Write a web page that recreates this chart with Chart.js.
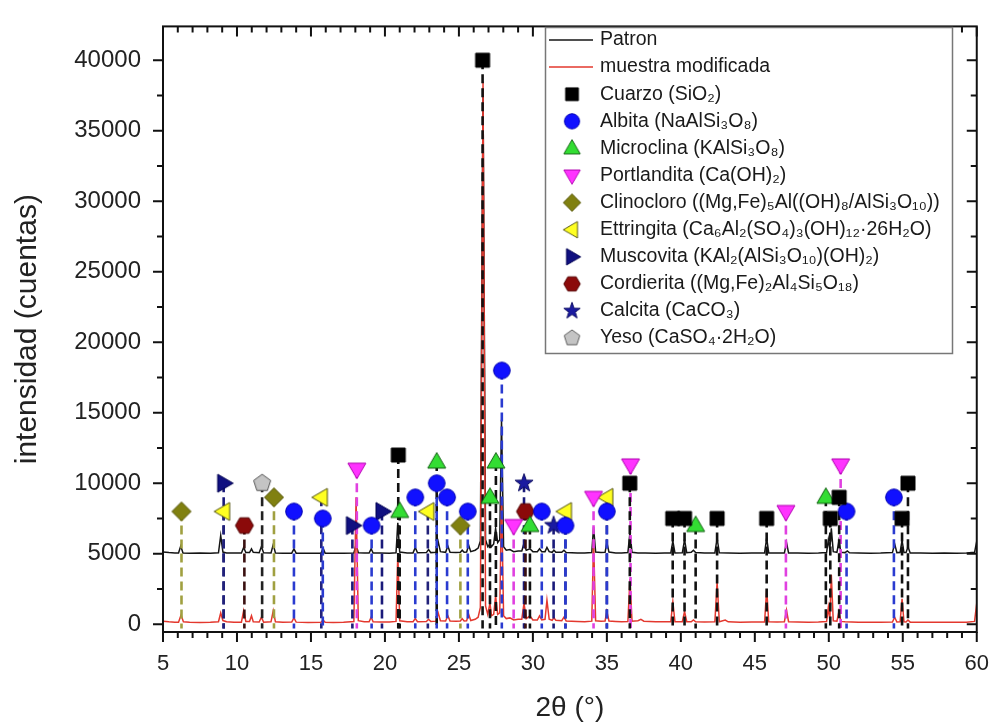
<!DOCTYPE html>
<html><head><meta charset="utf-8">
<script src="https://cdn.jsdelivr.net/npm/chart.js@4.4.1/dist/chart.umd.min.js"></script>
<style>html,body{margin:0;padding:0;background:#fff;}</style>
</head><body>
<canvas id="c" width="998" height="727"></canvas>
<script>
const FONT = '"Liberation Sans", Arial, Helvetica, sans-serif';

// ---- tick labels ----
const xTicks = [5, 10, 15, 20, 25, 30, 35, 40, 45, 50, 55, 60];
const yTicks = [0, 5000, 10000, 15000, 20000, 25000, 30000, 35000, 40000];

// ---- diffractograms [2θ, counts] ----
const patron = [[5.0,5120],[5.4,5080],[5.8,5060],[6.05,5050],[6.2,5550],[6.35,5060],[6.8,5040],[7.5,5050],[8.2,5040],[8.75,5070],[8.9,6300],[9.05,5120],[9.3,5060],[9.8,5050],[10.3,5050],[10.45,5450],[10.6,5080],[10.85,5080],[10.98,5350],[11.1,5100],[11.5,5070],[11.65,5500],[11.8,5070],[12.3,5060],[12.45,5650],[12.6,5060],[13.1,5040],[13.7,5040],[13.85,5350],[14.0,5040],[14.8,5030],[15.68,5040],[15.82,5400],[15.96,5040],[16.5,5030],[17.2,5040],[17.9,5050],[18.05,5650],[18.2,5070],[18.6,5050],[18.93,5050],[19.07,5350],[19.2,5050],[19.7,5050],[20.3,5040],[20.75,5070],[20.87,7200],[21.0,5120],[21.5,5060],[21.9,5060],[22.05,5450],[22.2,5070],[22.8,5080],[22.95,5300],[23.1,5080],[23.45,5100],[23.6,5850],[23.75,5150],[24.1,5100],[24.25,5550],[24.4,5100],[24.8,5080],[25.1,5100],[25.22,5250],[25.35,5100],[25.52,5120],[25.66,5600],[25.8,5150],[26.1,5250],[26.3,5400],[26.45,5900],[26.63,38000],[26.8,6000],[26.95,5500],[27.1,5700],[27.2,5500],[27.35,5700],[27.48,6800],[27.62,5800],[27.76,6000],[27.88,14500],[28.02,5500],[28.2,5250],[28.45,5300],[28.7,5150],[29.0,5200],[29.25,5200],[29.4,5750],[29.55,5250],[29.8,5350],[30.0,5150],[30.3,5150],[30.45,5350],[30.6,5150],[30.82,5150],[30.95,5450],[31.1,5150],[31.3,5100],[31.42,5250],[31.55,5100],[31.95,5100],[32.1,5250],[32.25,5080],[33.0,5060],[33.5,5050],[33.98,5080],[34.1,6900],[34.24,5120],[34.6,5080],[34.88,5100],[35.0,5800],[35.14,5120],[35.6,5060],[36.0,5050],[36.42,5080],[36.56,6500],[36.7,5100],[37.1,5060],[37.6,5050],[38.3,5040],[38.9,5050],[39.32,5060],[39.46,5900],[39.6,5060],[40.1,5070],[40.25,6000],[40.4,5070],[40.7,5100],[40.85,5250],[41.0,5080],[41.6,5050],[42.3,5060],[42.45,6100],[42.6,5070],[43.2,5060],[44.0,5040],[44.8,5050],[45.66,5060],[45.8,6100],[45.94,5060],[46.5,5050],[47.0,5060],[47.14,5800],[47.28,5060],[47.9,5050],[48.6,5040],[49.3,5050],[49.85,5080],[49.97,6000],[50.07,5300],[50.17,6800],[50.3,5150],[50.55,5100],[50.68,5900],[50.82,5100],[51.1,5080],[51.25,5200],[51.4,5070],[52.0,5050],[52.8,5040],[53.5,5050],[54.3,5080],[54.45,5700],[54.6,5080],[54.82,5090],[54.95,5950],[55.08,5080],[55.22,5080],[55.35,5500],[55.5,5060],[56.2,5050],[57.0,5040],[57.8,5050],[58.6,5040],[59.3,5050],[59.85,5100],[60.0,5900]];

const muestra = [[5.0,220],[5.4,170],[5.8,150],[6.05,150],[6.22,650],[6.38,170],[6.8,140],[7.5,130],[8.2,140],[8.75,180],[8.9,800],[9.05,260],[9.3,180],[9.8,150],[10.3,150],[10.45,950],[10.6,200],[10.85,200],[10.98,600],[11.1,180],[11.5,160],[11.65,500],[11.8,150],[12.3,170],[12.45,950],[12.6,170],[13.1,140],[13.7,150],[13.85,450],[14.0,150],[14.8,130],[15.68,140],[15.82,300],[15.96,140],[16.5,130],[17.2,150],[17.9,200],[18.05,9000],[18.2,250],[18.6,180],[18.93,170],[19.07,500],[19.2,170],[19.7,160],[20.3,160],[20.75,200],[20.87,5000],[21.0,250],[21.5,180],[21.9,180],[22.05,400],[22.2,180],[22.8,200],[22.95,350],[23.1,200],[23.45,220],[23.6,800],[23.75,250],[24.1,230],[24.25,600],[24.4,230],[24.8,220],[25.1,230],[25.22,400],[25.35,230],[25.52,250],[25.66,700],[25.8,260],[26.1,350],[26.3,500],[26.45,1200],[26.63,38500],[26.8,1300],[26.95,700],[27.1,1500],[27.2,600],[27.35,700],[27.48,2000],[27.62,700],[27.76,800],[27.88,9000],[28.02,600],[28.2,400],[28.45,450],[28.7,300],[29.0,350],[29.25,350],[29.4,1500],[29.55,400],[29.8,600],[30.0,300],[30.3,300],[30.45,600],[30.6,300],[30.82,350],[30.95,1700],[31.1,350],[31.3,280],[31.42,450],[31.55,280],[31.95,250],[32.1,500],[32.25,230],[33.0,200],[33.5,180],[33.98,220],[34.1,6000],[34.24,250],[34.6,220],[34.88,230],[35.0,900],[35.14,230],[35.6,200],[36.0,180],[36.42,200],[36.56,3200],[36.7,220],[37.1,250],[37.3,350],[37.5,220],[38.3,170],[38.9,170],[39.32,180],[39.46,1600],[39.6,180],[40.1,180],[40.25,900],[40.4,180],[40.7,170],[40.85,300],[41.0,170],[41.6,160],[42.3,170],[42.45,3000],[42.6,180],[43.0,300],[43.2,170],[44.0,150],[44.8,160],[45.66,160],[45.8,2500],[45.94,170],[46.5,160],[47.0,180],[47.14,1000],[47.28,180],[47.9,160],[48.6,150],[49.3,160],[49.85,200],[49.97,1200],[50.07,300],[50.17,3500],[50.3,250],[50.55,220],[50.68,900],[50.82,200],[51.1,170],[52.0,150],[52.8,150],[53.5,150],[54.3,160],[54.45,500],[54.6,160],[54.82,170],[54.95,1800],[55.08,170],[55.22,160],[55.35,300],[55.5,150],[56.2,150],[57.0,140],[57.8,150],[58.6,150],[59.3,150],[59.85,200],[60.0,1500]];

// ---- phase identification markers (2θ, marker height) ----
const cuarzoTheta  = [20.9, 26.6, 36.55, 39.45, 40.25, 42.45, 45.8, 50.1, 50.7, 54.95, 55.35];
const cuarzoCounts = [12000, 40000, 10000, 7500, 7500, 7500, 7500, 7500, 9000, 7500, 10000];
const albitaTheta  = [13.85, 15.8, 19.1, 22.05, 23.5, 24.2, 25.6, 27.9, 30.6, 32.2, 35.0, 51.2, 54.4];
const albitaCounts = [8000, 7500, 7000, 9000, 10000, 9000, 8000, 18000, 8000, 7000, 8000, 8000, 9000];
const microclinaTheta  = [21.0, 23.5, 27.1, 27.5, 29.8, 41.0, 49.8];
const microclinaCounts = [8000, 11500, 9000, 11500, 7000, 7000, 9000];
const portlanditaTheta  = [18.1, 28.7, 34.1, 36.6, 47.1, 50.8];
const portlanditaCounts = [11000, 7000, 9000, 11300, 8000, 11300];
const clinocloroTheta  = [6.25, 12.5, 25.1];
const clinocloroCounts = [8000, 9000, 7000];
const ettringitaTheta  = [9.1, 15.7, 22.9, 32.2, 35.0];
const ettringitaCounts = [8000, 9000, 8000, 8000, 9000];
const muscovitaTheta  = [9.1, 17.8, 19.8];
const muscovitaCounts = [10000, 7000, 8000];
const cordieritaTheta  = [10.5, 29.5];
const cordieritaCounts = [7000, 8000];
const calcitaTheta  = [29.4, 31.4];
const calcitaCounts = [10000, 7000];
const yesoTheta  = [11.7];
const yesoCounts = [10000];

const seriesLabels = ['Patron', 'muestra modificada'];
const phaseLabels = [
  'Cuarzo (SiO₂)',
  'Albita (NaAlSi₃O₈)',
  'Microclina (KAlSi₃O₈)',
  'Portlandita (Ca(OH)₂)',
  'Clinocloro ((Mg,Fe)₅Al((OH)₈/AlSi₃O₁₀))',
  'Ettringita (Ca₆Al₂(SO₄)₃(OH)₁₂·26H₂O)',
  'Muscovita (KAl₂(AlSi₃O₁₀)(OH)₂)',
  'Cordierita ((Mg,Fe)₂Al₄Si₅O₁₈)',
  'Calcita (CaCO₃)',
  'Yeso (CaSO₄·2H₂O)'
];

// ---- marker images ----
function makeMarker(shape, fill, stroke) {
  const s = 24, c = document.createElement('canvas');
  c.width = s; c.height = s;
  const g = c.getContext('2d');
  g.translate(s / 2, s / 2);
  g.beginPath();
  const poly = (pts) => { g.moveTo(pts[0][0], pts[0][1]); for (let i = 1; i < pts.length; i++) g.lineTo(pts[i][0], pts[i][1]); g.closePath(); };
  const reg = (n, r, a0) => { const p = []; for (let i = 0; i < n; i++) { const a = a0 + i * 2 * Math.PI / n; p.push([r * Math.cos(a), r * Math.sin(a)]); } poly(p); };
  switch (shape) {
    case 'square': g.rect(-7, -7, 14, 14); break;
    case 'circle': g.arc(0, 0, 8.3, 0, Math.PI * 2); break;
    case 'up': poly([[0, -9.5], [9, 6], [-9, 6]]); break;
    case 'down': poly([[0, 9.5], [9, -6], [-9, -6]]); break;
    case 'diamond': poly([[0, -9.5], [9.5, 0], [0, 9.5], [-9.5, 0]]); break;
    case 'left': poly([[-9.5, 0], [6, -9], [6, 9]]); break;
    case 'right': poly([[9.5, 0], [-6, -9], [-6, 9]]); break;
    case 'hex': reg(6, 9, 0); break;
    case 'pent': reg(5, 9, -Math.PI / 2); break;
    case 'star': {
      const p = [];
      for (let i = 0; i < 10; i++) { const r = i % 2 ? 3.8 : 9.5; const a = -Math.PI / 2 + i * Math.PI / 5; p.push([r * Math.cos(a), r * Math.sin(a)]); }
      poly(p); break;
    }
  }
  g.fillStyle = fill; g.fill();
  g.lineWidth = 1; g.strokeStyle = stroke; g.stroke();
  return c;
}

const phases = [
  { t: cuarzoTheta, c: cuarzoCounts, m: makeMarker('square', '#000000', '#000000'), dash: '#111111' },
  { t: albitaTheta, c: albitaCounts, m: makeMarker('circle', '#1010ff', '#0000b0'), dash: '#2a3bd0' },
  { t: microclinaTheta, c: microclinaCounts, m: makeMarker('up', '#33dd33', '#106010'), dash: '#111111' },
  { t: portlanditaTheta, c: portlanditaCounts, m: makeMarker('down', '#ff33ff', '#b000b0'), dash: '#e040e0' },
  { t: clinocloroTheta, c: clinocloroCounts, m: makeMarker('diamond', '#808010', '#505000'), dash: '#a0a040' },
  { t: ettringitaTheta, c: ettringitaCounts, m: makeMarker('left', '#ffff22', '#505010'), dash: '#22227a' },
  { t: muscovitaTheta, c: muscovitaCounts, m: makeMarker('right', '#101080', '#000050'), dash: '#1a1a7a' },
  { t: cordieritaTheta, c: cordieritaCounts, m: makeMarker('hex', '#8b0a0a', '#500000'), dash: '#3a1010' },
  { t: calcitaTheta, c: calcitaCounts, m: makeMarker('star', '#1a1aa0', '#0a0a60'), dash: '#1a1a7a' },
  { t: yesoTheta, c: yesoCounts, m: makeMarker('pent', '#c4c4c4', '#555555'), dash: '#222222' }
];

const DASH_BOTTOM = -300;
const datasets = [];
phases.forEach((p, i) => {
  datasets.push({
    label: phaseLabels[i],
    data: p.t.map((x, k) => ({ x, y: p.c[k] })),
    pointStyle: p.m, pointRadius: 10, showLine: false, order: 0
  });
});
phases.forEach((p, i) => {
  const d = [];
  p.t.forEach((x, k) => { d.push({ x, y: p.c[k] }, { x, y: DASH_BOTTOM }, { x, y: null }); });
  datasets.push({
    label: phaseLabels[i] + ' ref', data: d, showLine: true, spanGaps: false,
    borderColor: p.dash, borderWidth: 2.6, borderDash: [9, 5], pointRadius: 0, order: 1
  });
});
datasets.push({
  label: seriesLabels[1], data: muestra.map(([x, y]) => ({ x, y })),
  showLine: true, borderColor: '#e3382e', borderWidth: 1.5, pointRadius: 0, order: 2
});
datasets.push({
  label: seriesLabels[0], data: patron.map(([x, y]) => ({ x, y })),
  showLine: true, borderColor: '#151515', borderWidth: 1.5, pointRadius: 0, order: 3
});

const framePlugin = {
  id: 'frame',
  afterDraw(chart) {
    const { ctx, chartArea: { left, right, top, bottom }, scales: { x, y } } = chart;
    ctx.save();
    ctx.strokeStyle = '#111'; ctx.lineWidth = 2;
    ctx.strokeRect(left, top, right - left, bottom - top);
    ctx.beginPath();
    for (let v = xTicks[0]; v <= xTicks[xTicks.length - 1]; v += 1) {
      const px = x.getPixelForValue(v);
      const len = (v % 5 === 0) ? 10 : 6;
      ctx.moveTo(px, bottom); ctx.lineTo(px, bottom + len);
      ctx.moveTo(px, top); ctx.lineTo(px, top + len);
    }
    for (let v = 2500; v < y.max; v += 2500) {
      const py = y.getPixelForValue(v);
      const len = (v % 5000 === 0) ? 10 : 6;
      ctx.moveTo(left - len, py); ctx.lineTo(left, py);
      ctx.moveTo(right - len, py); ctx.lineTo(right, py);
    }
    const p0 = y.getPixelForValue(0);
    ctx.moveTo(left - 10, p0); ctx.lineTo(left, p0);
    ctx.moveTo(right - 10, p0); ctx.lineTo(right, p0);
    ctx.stroke();

    // legend
    const bx = 545, by = 27, bw = 407, bh = 326;
    ctx.fillStyle = '#fff';
    ctx.fillRect(bx, by, bw, bh);
    ctx.strokeStyle = '#777'; ctx.lineWidth = 1.5;
    ctx.strokeRect(bx + 0.5, by + 0.5, bw, bh);
    const rowH = 27.1, y0 = 40, tx = 600, mx = 572;
    ctx.font = '19.5px ' + FONT;
    ctx.fillStyle = '#1a1a1a';
    ctx.textBaseline = 'middle';
    ctx.textAlign = 'left';
    const lineCols = ['#151515', '#e3382e'];
    seriesLabels.forEach((lab, i) => {
      const yy = y0 + i * rowH;
      ctx.strokeStyle = lineCols[i]; ctx.lineWidth = 1.5;
      ctx.beginPath(); ctx.moveTo(549, yy); ctx.lineTo(593, yy); ctx.stroke();
      ctx.fillText(lab, tx, yy);
    });
    phases.forEach((p, i) => {
      const yy = y0 + (i + 2) * rowH;
      ctx.drawImage(p.m, mx - 11, yy - 11, 22, 22);
      ctx.fillText(phaseLabels[i], tx, yy);
    });
    ctx.restore();
  }
};

new Chart(document.getElementById('c'), {
  type: 'scatter',
  data: { datasets },
  options: {
    responsive: false, animation: false, events: [],
    layout: { padding: { top: 10, right: 18, left: 0, bottom: 0 } },
    plugins: { legend: { display: false }, tooltip: { enabled: false } },
    scales: {
      x: {
        type: 'linear', min: 5, max: 60,
        afterBuildTicks: s => { s.ticks = xTicks.map(v => ({ value: v })); },
        afterFit: s => { s.height = 95; },
        grid: { display: true, drawOnChartArea: false, drawTicks: true, tickLength: 10, color: 'rgba(0,0,0,0)' },
        border: { display: false },
        ticks: { font: { family: FONT, size: 22 }, color: '#222', padding: 9, maxRotation: 0, autoSkip: false, callback: v => String(v) },
        title: { display: true, text: '2θ (°)', font: { family: FONT, size: 28 }, color: '#222', padding: { top: 0, bottom: 2 } }
      },
      y: {
        type: 'linear', min: -550, max: 42400,
        afterBuildTicks: s => { s.ticks = yTicks.map(v => ({ value: v })); },
        afterFit: s => { s.width = 163; },
        grid: { display: true, drawOnChartArea: false, drawTicks: true, tickLength: 10, color: 'rgba(0,0,0,0)' },
        border: { display: false },
        ticks: { font: { family: FONT, size: 24 }, color: '#222', padding: 12, autoSkip: false, callback: v => String(v) },
        title: { display: true, text: 'intensidad (cuentas)', font: { family: FONT, size: 30 }, color: '#222', padding: { top: 10, bottom: 0 } }
      }
    }
  },
  plugins: [framePlugin]
});
</script>
</body></html>
